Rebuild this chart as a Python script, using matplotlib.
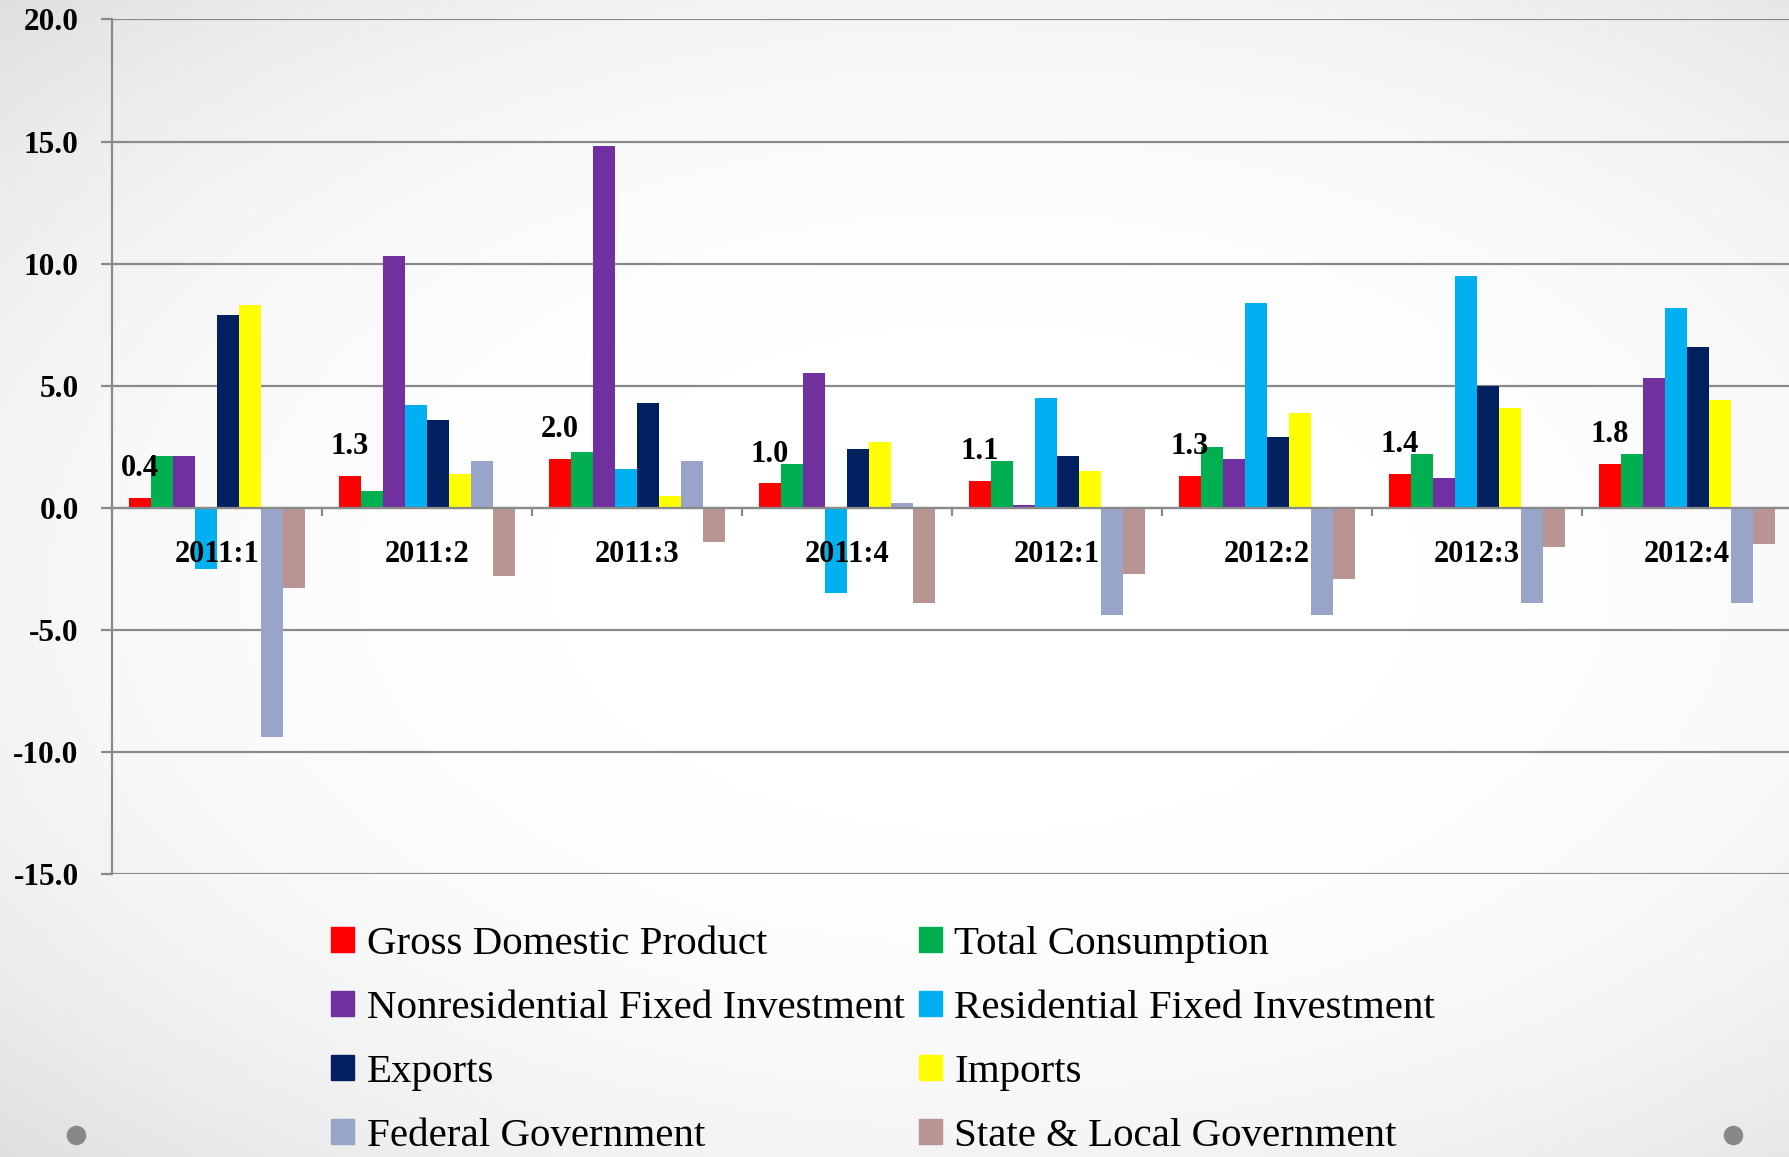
import matplotlib.pyplot as plt
import numpy as np
from matplotlib.patches import Rectangle

quarters = ["2011:1", "2011:2", "2011:3", "2011:4", "2012:1", "2012:2", "2012:3", "2012:4"]

gdp = [0.4, 1.3, 2.0, 1.0, 1.1, 1.3, 1.4, 1.8]
consumption = [2.1, 0.7, 2.3, 1.8, 1.9, 2.5, 2.2, 2.2]
nonres_inv = [2.1, 10.3, 14.8, 5.5, 0.1, 2.0, 1.2, 5.3]
res_inv = [-2.5, 4.2, 1.6, -3.5, 4.5, 8.4, 9.5, 8.2]
exports = [7.9, 3.6, 4.3, 2.4, 2.1, 2.9, 5.0, 6.6]
imports = [8.3, 1.4, 0.5, 2.7, 1.5, 3.9, 4.1, 4.4]
federal = [-9.4, 1.9, 1.9, 0.2, -4.4, -4.4, -3.9, -3.9]
state_local = [-3.3, -2.8, -1.4, -3.9, -2.7, -2.9, -1.6, -1.5]

series = [gdp, consumption, nonres_inv, res_inv, exports, imports, federal, state_local]
names = ["Gross Domestic Product", "Total Consumption", "Nonresidential Fixed Investment",
         "Residential Fixed Investment", "Exports", "Imports", "Federal Government",
         "State & Local Government"]
colors = ["#FF0000", "#00B050", "#7030A0", "#00B0F0", "#002060", "#FFFF00", "#98A5C8", "#B89493"]

serif = ["Liberation Serif", "DejaVu Serif"]
grid_gray = "#8a8a8a"

fig = plt.figure(figsize=(17.89, 11.57), dpi=100)

# slide background: white centre fading to light grey at the corners
bg = fig.add_axes([0, 0, 1, 1], zorder=-10)
yy, xx = np.mgrid[0:1:300j, 0:1:460j]
d = np.sqrt(((xx - 0.55) / 0.55) ** 2 + ((yy - 0.5) / 0.5) ** 2)
shade = 1 - 0.045 * d ** 3
bg.imshow(shade, extent=[0, 1, 0, 1], aspect="auto", cmap="gray", vmin=0, vmax=1, origin="lower")
bg.scatter([76 / 1789, 1733 / 1789], [1 - 1135 / 1157] * 2, s=170, color="#888888", zorder=2)
bg.set_xlim(0, 1)
bg.set_ylim(0, 1)
bg.axis("off")

ax = fig.add_axes([0.0626, 0.2446, 0.939, 0.7386])
ax.patch.set_alpha(0)

x = np.arange(len(quarters))
width = 0.105
for i, (vals, name, c) in enumerate(zip(series, names, colors)):
    ax.bar(x + (i - 3.5) * width, vals, width, color=c, label=name, zorder=3)

for xi, v in zip(x, gdp):
    ax.annotate(f"{v:.1f}", (xi - 3.5 * width, v), xytext=(0, 21), textcoords="offset points",
                ha="center", va="center", fontsize=22, fontweight="bold", family=serif, zorder=6)

for xi, q in zip(x, quarters):
    ax.text(xi, -1.9, q, ha="center", va="center", fontsize=22, fontweight="bold",
            family=serif, zorder=6)

ax.set_xlim(-0.5, 7.5)
ax.set_ylim(-15, 20)
ax.set_yticks(np.arange(-15, 21, 5))
ax.set_yticklabels([f"{t:.1f}" for t in np.arange(-15, 21, 5)], fontsize=22.5,
                   fontweight="bold", family=serif)
ax.yaxis.grid(True, color=grid_gray, linewidth=1.6, zorder=1)
ax.set_axisbelow(True)
ax.tick_params(axis="y", direction="out", length=8, width=1.6, color=grid_gray, pad=16)

ax.set_xticks(np.arange(-0.5, 7.5, 1))
ax.set_xticklabels([])
ax.tick_params(axis="x", direction="out", length=6, width=1.6, color=grid_gray)

for s in ["top", "right"]:
    ax.spines[s].set_visible(False)
ax.spines["left"].set_color(grid_gray)
ax.spines["left"].set_linewidth(1.6)
ax.spines["bottom"].set_position(("data", 0))
ax.spines["bottom"].set_color(grid_gray)
ax.spines["bottom"].set_linewidth(1.6)
ax.spines["bottom"].set_zorder(4)

# legend filled row by row like the original
order = [0, 2, 4, 6, 1, 3, 5, 7]
proxies = [Rectangle((0, 0), 1, 1, color=colors[k]) for k in order]
leg = fig.legend(proxies, [names[k] for k in order], ncol=2, loc="upper left",
                 bbox_to_anchor=(0.185, 0.2), frameon=False,
                 prop={"family": serif, "size": 29.5}, handlelength=0.57, handleheight=0.57,
                 handletextpad=0.3, columnspacing=0.35, labelspacing=0.66,
                 borderpad=0, borderaxespad=0)

fig.savefig("out.png", dpi=100)
